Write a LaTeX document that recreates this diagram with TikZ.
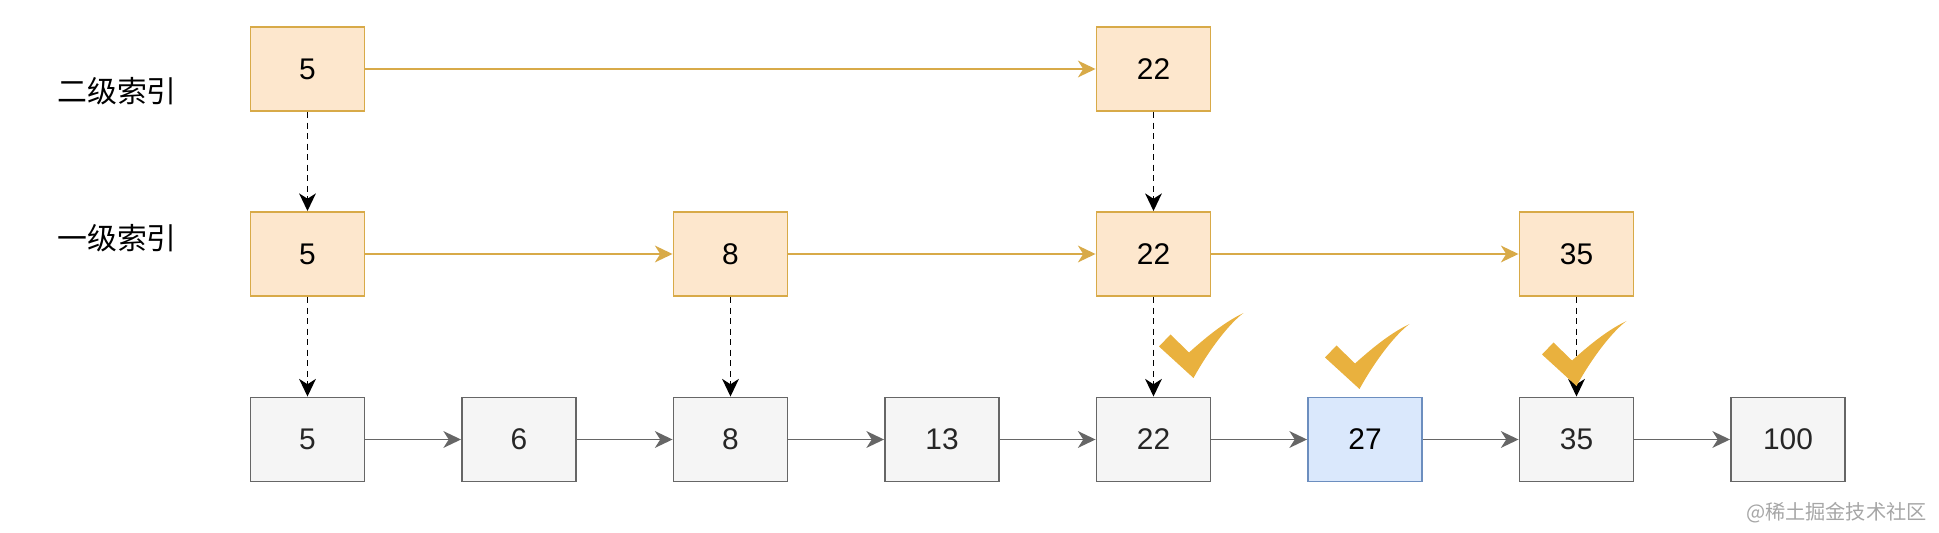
\documentclass[tikz,border=0pt]{standalone}
\usepackage{fontspec}
\setmainfont{Liberation Sans}
\newfontfamily\cjk{Noto Sans CJK SC}
\usepackage{tikz}
\usetikzlibrary{arrows.meta,positioning}
\definecolor{idxfill}{HTML}{FDE7CD}
\definecolor{idxline}{HTML}{D8AA48}
\definecolor{cellfill}{HTML}{F5F5F5}
\definecolor{cellline}{HTML}{666666}
\definecolor{hitfill}{HTML}{DAE8FC}
\definecolor{hitline}{HTML}{6C8EBF}
\definecolor{okgold}{HTML}{E9B13E}
\tikzset{
  idx/.style={draw=idxline, fill=idxfill, line width=1.1pt, minimum width=2.28cm, minimum height=1.68cm, inner sep=0pt, font=\fontsize{17}{20}\selectfont},
  cell/.style={idx, draw=cellline, fill=cellfill, text=black!85},
  hit/.style={idx, draw=hitline, fill=hitfill},
  link/.style={-{Stealth[length=10pt, width=9.5pt, inset=3pt]}, line width=1.1pt},
  down/.style={link, black, dash pattern=on 3.5pt off 2.5pt},
  lvl/.style={font=\cjk\fontsize{17}{20}\selectfont},
  okmark/.pic={\fill[okgold] (-0.02,-0.67) -- (0.21,-0.43) -- (0.58,-0.79) .. controls (0.85,-0.55) and (1.25,-0.2) .. (1.67,0) .. controls (1.4,-0.2) and (1.0,-0.7) .. (0.67,-1.3) -- cycle;}
}
\begin{document}
\begin{tikzpicture}
\useasboundingbox (0,0) rectangle (38.78,-10.66);
\node[lvl] (l2) at (2.34,-1.82) {二级索引};
\node[lvl] (l1) at (2.34,-4.76) {一级索引};
\node[idx] (t5) at (6.15,-1.38) {5};
\node[idx] (t22) at (23.07,-1.38) {22};
\node[idx] (m5) at (6.15,-5.08) {5};
\node[idx] (m8) at (14.61,-5.08) {8};
\node[idx] (m22) at (23.07,-5.08) {22};
\node[idx] (m35) at (31.53,-5.08) {35};
\node[cell] (b5) at (6.15,-8.79) {5};
\node[cell] (b6) at (10.38,-8.79) {6};
\node[cell] (b8) at (14.61,-8.79) {8};
\node[cell] (b13) at (18.84,-8.79) {13};
\node[cell] (b22) at (23.07,-8.79) {22};
\node[hit] (b27) at (27.30,-8.79) {27};
\node[cell] (b35) at (31.53,-8.79) {35};
\node[cell] (b100) at (35.76,-8.79) {100};
\draw[link, idxline] (t5) -- (t22);
\draw[link, idxline] (m5) -- (m8);
\draw[link, idxline] (m8) -- (m22);
\draw[link, idxline] (m22) -- (m35);
\draw[link, cellline] (b5) -- (b6);
\draw[link, cellline] (b6) -- (b8);
\draw[link, cellline] (b8) -- (b13);
\draw[link, cellline] (b13) -- (b22);
\draw[link, cellline] (b22) -- (b27);
\draw[link, cellline] (b27) -- (b35);
\draw[link, cellline] (b35) -- (b100);
\draw[down] (t5) -- (m5);
\draw[down] (t22) -- (m22);
\draw[down] (m5) -- (b5);
\draw[down] (m8) -- (b8);
\draw[down] (m22) -- (b22);
\draw[down] (m35) -- (b35);
\pic at (23.20,-6.26) {okmark};
\pic at (26.52,-6.48) {okmark};
\pic at (30.86,-6.42) {okmark};
\node[font=\cjk\fontsize{11.5}{13}\selectfont, text=black!35, anchor=east] (wm) at (38.66,-10.26) {@稀土掘金技术社区};
\end{tikzpicture}
\end{document}
